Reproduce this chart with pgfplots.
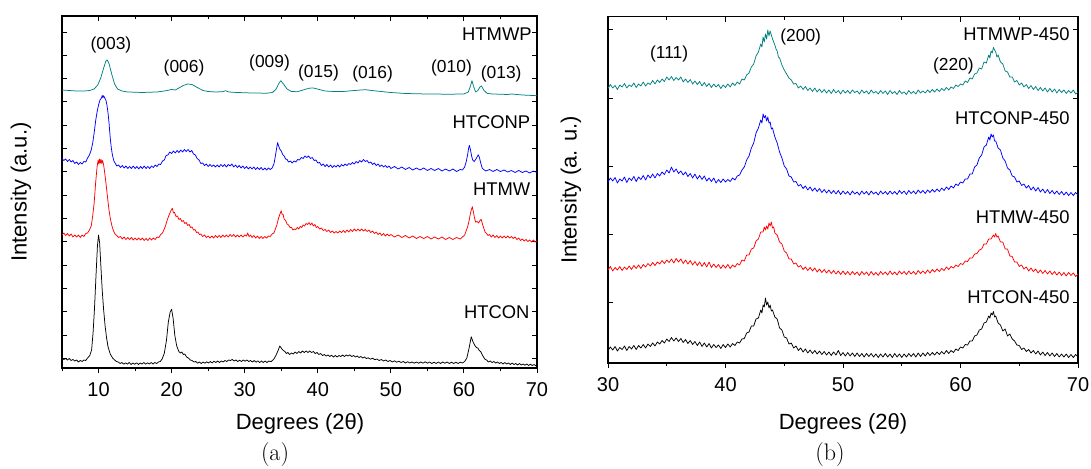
\documentclass[border=0pt]{standalone}
\usepackage{pgfplots}
\pgfplotsset{compat=1.18}
\usepackage{fontspec}
\setsansfont{Liberation Sans}
\definecolor{cteal}{RGB}{0,128,128}
\definecolor{cblue}{RGB}{0,0,255}
\definecolor{cred}{RGB}{255,0,0}
\pgfplotsset{
  xrdbase/.style={scale only axis, anchor=north west,
    axis line style={line width=1.1pt},
    tick style={line width=1pt, black},
    major tick length=5pt, minor tick length=3pt,
    /pgf/number format/assume math mode=true,
    tick label style={font=\sffamily\fontsize{20}{24}\selectfont, inner sep=0pt},
    xticklabel shift=14pt,
    yticklabels={}},
}
\tikzset{
  curve/.style={line width=0.75pt, mark=none, line join=round},
  lab/.style={font=\sffamily\fontsize{18.4}{22}\selectfont, inner sep=0pt},
  pk/.style={font=\sffamily\fontsize{17.4}{21}\selectfont, inner sep=0pt},
}
\begin{document}
\begin{tikzpicture}
\path[use as bounding box] (0pt,0pt) rectangle (1091pt,-468pt);
% ---------------- panel (a) ----------------
\begin{axis}[xrdbase, at={(62pt,-16pt)}, width=475pt, height=352pt,
  xmin=5, xmax=70, ymin=0, ymax=352,
  xtick={10,20,...,70}, minor xtick={5,15,...,65},
  ytick={9.7,33,56.3,79.6,102.9,126.2,149.5,172.8,196.1,219.4,242.7,266,289.3,312.6,335.9},
  tick align=inside, xtick pos=right, xticklabel pos=left, ytick pos=both]
\addplot[curve, black] coordinates {(5,10)(5.25,8.5)(5.5,9.5)(5.75,8)(6,9.5)(6.25,7.5)(6.5,8.5)(6.75,7)(7,8)(7.25,6)(7.5,7.5)(7.75,6.5)(8,8)(8.25,7.5)(8.5,10)(8.8,12.5)(9.05,18)(9.25,35)(9.45,60)(9.65,92)(9.85,122)(10.0,133)(10.15,125)(10.3,104.7)(10.5,78)(10.7,58)(10.9,42)(11.1,30)(11.3,21.3)(11.6,14)(11.95,9.7)(12.2,8)(12.45,6.5)(12.7,6)(12.95,4.5)(13.2,5.5)(13.45,3.8)(13.7,5.2)(13.95,3.8)(14.2,5.5)(14.45,3.5)(14.7,5)(14.95,3.8)(15.2,5.2)(15.45,3.5)(15.7,5)(15.95,4)(16.2,5.5)(16.45,3.8)(16.7,5.2)(16.95,4)(17.2,5.5)(17.45,4)(17.7,5.5)(17.95,4.5)(18.2,6)(18.45,6.5)(18.7,9)(19.0,14.7)(19.3,28)(19.55,46)(19.8,56)(20.0,58.7)(20.2,50)(20.45,32)(20.7,22)(21.0,16.3)(21.2,15)(21.4,16)(21.6,13.5)(21.8,14)(22.05,11)(22.3,10)(22.55,8)(22.8,7.5)(23.05,6)(23.3,6.5)(23.55,4.8)(23.8,6)(24.05,4.5)(24.3,6)(24.55,4.8)(24.8,6.2)(25.05,5)(25.3,6.5)(25.55,5)(25.8,6.8)(26.05,5.5)(26.3,7)(26.55,5.5)(26.8,7)(27.05,6)(27.3,7.5)(27.55,6.5)(27.8,8)(28.05,7.5)(28.3,8.5)(28.55,7)(28.8,8)(29.05,6.5)(29.3,7.8)(29.55,6.5)(29.8,8)(30.05,6.8)(30.3,8)(30.55,6.5)(30.8,7.5)(31.05,6)(31.3,7.5)(31.55,5.8)(31.8,7.2)(32.05,5.5)(32.3,7)(32.55,5.5)(32.8,7)(33.05,5.5)(33.3,7)(33.6,6.3)(34,9)(34.3,13)(34.6,18)(34.8,22)(35.1,19)(35.3,17.5)(35.5,16.5)(35.7,14.5)(35.9,15.5)(36.15,13.5)(36.4,15)(36.65,14)(36.9,16)(37.15,14.5)(37.4,16.5)(37.65,15)(37.9,17)(38.15,15.5)(38.4,17)(38.65,15.5)(38.9,17)(39.15,15.5)(39.4,16.5)(39.65,14.5)(39.9,15.5)(40.15,13.5)(40.4,14.5)(40.65,12.5)(40.9,13.5)(41.15,12)(41.4,13)(41.65,11.5)(41.9,12.8)(42.15,11)(42.4,12.5)(42.65,11)(42.9,12.5)(43.15,11.5)(43.4,13)(43.65,11.5)(43.9,13)(44.15,12)(44.4,13.2)(44.65,11.5)(44.9,12.5)(45.15,11)(45.4,12)(45.65,10.5)(45.9,11.5)(46.15,10)(46.4,11)(46.65,9.5)(46.9,10.2)(47.2,8.8)(47.5,9.8)(47.8,8.3)(48.1,9)(48.4,7.5)(48.7,8.5)(49,7)(49.3,8)(49.6,6.5)(49.9,7.5)(50.2,6)(50.5,7.2)(50.8,5.8)(51.1,6.8)(51.4,5.5)(51.7,6.5)(52,5)(52.3,6.3)(52.6,5)(52.9,6)(53.2,4.8)(53.5,6)(53.8,4.8)(54.1,6)(54.4,4.8)(54.7,6.2)(55,4.8)(55.3,6)(55.6,4.5)(55.9,5.8)(56.2,4.5)(56.5,6)(56.8,4.5)(57.1,6)(57.4,4.8)(57.7,6)(58,4.5)(58.3,5.8)(58.6,4.5)(58.9,5.8)(59.2,4.5)(59.5,5.8)(59.8,5)(60.1,6.5)(60.4,10)(60.7,19.7)(61.0,31.3)(61.25,26)(61.5,22.5)(61.7,20.5)(61.9,20)(62.1,17.5)(62.3,16.3)(62.6,12)(62.85,9)(63.1,8)(63.35,6)(63.6,7)(63.85,5.5)(64.1,6.5)(64.35,5)(64.6,6)(64.85,4.5)(65.1,5.5)(65.35,4)(65.6,5.5)(65.85,4)(66.1,5)(66.35,3.5)(66.6,5)(66.85,3.5)(67.1,4.5)(67.35,3)(67.6,4.5)(67.85,3)(68.1,4)(68.35,2.8)(68.6,4)(68.85,2.5)(69.1,3.8)(69.35,2.5)(69.6,3.5)(69.85,2.2)(70,3)};
\addplot[curve, cred] coordinates {(5,133)(5.25,135)(5.5,132.5)(5.75,134.5)(6,132)(6.25,134)(6.5,131)(6.75,133)(7,131)(7.25,133)(7.5,130.5)(7.75,133)(8,131.5)(8.25,134.5)(8.5,135)(8.75,138)(9,142)(9.2,152)(9.4,165)(9.6,185)(9.8,201)(9.95,208)(10.05,204)(10.15,209)(10.25,205)(10.35,208.5)(10.45,204.5)(10.55,207.5)(10.7,203)(10.85,195)(11,186)(11.15,176)(11.3,166)(11.45,157)(11.6,150)(11.8,143)(12,138)(12.25,134)(12.5,132.5)(12.75,130.5)(13,131.5)(13.25,129)(13.5,131)(13.75,128.5)(14,130.5)(14.25,128.5)(14.5,130.5)(14.75,128)(15,130)(15.25,128)(15.5,130)(15.75,128)(16,130)(16.25,127.5)(16.5,129.5)(16.75,127.5)(17,130)(17.25,128)(17.5,130)(17.75,128.5)(18,131)(18.25,130.5)(18.5,133.5)(18.75,135)(19,139)(19.2,143)(19.4,148)(19.6,152)(19.8,155.5)(19.95,158)(20.1,159.7)(20.25,155)(20.4,155.5)(20.6,151.5)(20.8,152)(21,148.5)(21.2,149.5)(21.4,146.5)(21.6,147.5)(21.8,144.5)(22,145.5)(22.2,142.5)(22.4,143.5)(22.6,140.5)(22.8,141)(23,138)(23.2,138.5)(23.4,135.5)(23.6,136)(23.8,133.5)(24,134)(24.25,131.5)(24.5,133)(24.75,130.5)(25,132)(25.25,130)(25.5,132)(25.75,130)(26,132.5)(26.25,130.5)(26.5,132.5)(26.75,130.5)(27,133)(27.25,131)(27.5,133)(27.75,131)(28,133.5)(28.25,131.5)(28.5,133.5)(28.75,131)(29,133)(29.25,131)(29.5,133)(29.75,131)(30,133)(30.25,132)(30.4,135)(30.6,131.5)(30.8,133)(31,130.5)(31.25,132.5)(31.5,130)(31.75,132)(32,129.5)(32.25,131.5)(32.5,129.5)(32.75,131.5)(33,130)(33.25,132)(33.5,131.5)(33.75,134)(34,135)(34.2,139)(34.4,143)(34.6,149)(34.8,153.5)(35,157.3)(35.1,154)(35.25,153.5)(35.4,149)(35.6,147.5)(35.8,144)(36,143)(36.2,140.5)(36.4,140.5)(36.6,138)(36.8,139)(37,138.5)(37.2,140.5)(37.4,139)(37.6,141.5)(37.8,140.5)(38,143)(38.2,142)(38.4,144.5)(38.6,143.5)(38.8,145.5)(39,143)(39.2,145)(39.4,142)(39.6,143.5)(39.8,140.5)(40,141.5)(40.25,139)(40.5,140)(40.75,137.5)(41,138.5)(41.25,136.5)(41.5,138)(41.75,135.5)(42,137)(42.25,135)(42.5,136.5)(42.75,135)(43,137)(43.25,135.5)(43.5,137.5)(43.75,135.5)(44,138)(44.25,136)(44.5,138.5)(44.75,136.5)(45,139)(45.25,137)(45.5,139)(45.75,137)(46,139)(46.25,137)(46.5,138.5)(46.75,136.5)(47,138)(47.25,135.5)(47.5,137)(47.75,134.5)(48,136)(48.25,133.5)(48.5,135)(48.75,132.5)(49,134.5)(49.25,132)(49.5,134)(49.75,132)(50,133.5)(50.5,131)(51,133)(51.5,130.5)(52,132.5)(52.5,130)(53,132)(53.5,129.5)(54,131.5)(54.5,129.5)(55,131.5)(55.5,129)(56,131)(56.5,129)(57,131)(57.5,128.5)(58,130.5)(58.5,128.5)(59,130.5)(59.5,129)(59.8,131)(60.1,133)(60.3,137)(60.5,141)(60.7,147)(60.85,153)(61,158)(61.15,161.3)(61.3,156)(61.45,150)(61.6,146)(61.8,146.5)(62,145)(62.2,147.5)(62.35,148.7)(62.5,145)(62.7,140)(62.9,136)(63.1,134.5)(63.3,132.5)(63.5,133.5)(63.75,131)(64,133)(64.25,130.5)(64.5,132.5)(64.75,130)(65,132)(65.25,130)(65.5,132)(65.75,130)(66,132)(66.25,130)(66.5,131.5)(66.75,129.5)(67,131)(67.25,128.5)(67.5,130)(67.75,127.5)(68,129)(68.25,127)(68.5,128.5)(68.75,126.5)(69,128)(69.25,126)(69.5,128)(69.75,126)(70,127)};
\addplot[curve, cblue] coordinates {(5,209.5)(5.25,207.5)(5.5,209)(5.75,206.5)(6,208.5)(6.25,206)(6.5,207.5)(6.75,204.5)(7,206)(7.25,203.5)(7.5,205.5)(7.75,204)(8,206.5)(8.25,206)(8.5,210)(8.75,213)(9,218)(9.2,225)(9.4,235)(9.6,247)(9.8,256)(10,263)(10.2,268)(10.4,270)(10.5,272.5)(10.6,270.5)(10.7,272.3)(10.85,270)(11,268)(11.15,263)(11.3,255)(11.45,244)(11.6,230)(11.75,220)(11.9,213)(12.1,207)(12.3,204.5)(12.5,202)(12.75,203)(13,200.5)(13.25,202.5)(13.5,200)(13.75,202)(14,199.5)(14.25,201.5)(14.5,199.5)(14.75,202)(15,199.5)(15.25,201.5)(15.5,199)(15.75,201.5)(16,199.5)(16.25,202)(16.5,199.5)(16.75,201.5)(17,199.5)(17.25,202)(17.5,200.5)(17.75,203)(18,201.5)(18.25,204)(18.5,203.5)(18.75,207)(19,208)(19.25,212.5)(19.5,213)(19.75,216)(20,214.5)(20.25,217)(20.5,215)(20.75,217.5)(21,215.5)(21.25,218)(21.5,216)(21.75,218.5)(22,216.5)(22.25,218.5)(22.5,216)(22.75,217.5)(23,214)(23.25,213)(23.5,209.5)(23.75,208)(24,204.5)(24.25,205)(24.5,202.5)(24.75,204)(25,201.5)(25.25,203.5)(25.5,201.5)(25.75,203)(26,201)(26.25,203)(26.5,201)(26.75,203.5)(27,201.5)(27.25,203.5)(27.5,201)(27.75,203.5)(28,202)(28.25,204)(28.5,201)(28.75,203)(29,200.5)(29.25,202.5)(29.5,200)(29.75,202)(30,199.5)(30.25,201.5)(30.5,199)(30.75,201)(31,199)(31.25,201)(31.5,198.5)(31.75,200.5)(32,198.5)(32.25,200.5)(32.5,198)(32.75,200)(33,198)(33.25,200)(33.5,198.5)(33.75,200)(34,204)(34.2,212)(34.4,221)(34.5,225.4)(34.65,222)(34.8,219)(35,217)(35.2,213.5)(35.4,212)(35.6,209)(35.8,208.5)(36,206)(36.25,207)(36.5,205)(36.75,207)(37,206)(37.25,208.5)(37.5,208)(37.75,210.5)(38,209.5)(38.25,212)(38.5,210.5)(38.75,212)(39,209.5)(39.25,210.5)(39.5,207.5)(39.75,208)(40,205)(40.25,205.5)(40.5,202.5)(40.75,204)(41,201.5)(41.25,203.5)(41.5,201)(41.75,203)(42,200.5)(42.25,202.5)(42.5,201)(42.75,203)(43,201)(43.25,203.5)(43.5,202)(43.75,204)(44,202.5)(44.25,204.5)(44.5,203.5)(44.75,205.5)(45,204)(45.25,206.5)(45.5,205)(45.75,207.5)(46,206)(46.25,208.5)(46.5,206.5)(46.75,207.5)(47,205)(47.25,206)(47.5,203.5)(47.75,205)(48,202.5)(48.25,204)(48.5,201.5)(48.75,203)(49,201)(49.25,202.5)(49.5,200.5)(49.75,202)(50,199.5)(50.5,201.5)(51,199)(51.5,201)(52,198.5)(52.5,200.5)(53,198)(53.5,200)(54,198)(54.5,200)(55,197.5)(55.5,199.5)(56,197.5)(56.5,199.5)(57,197)(57.5,199)(58,197)(58.5,199)(59,196.5)(59.5,198.5)(59.8,198)(60.1,201)(60.3,206)(60.5,213)(60.65,220)(60.75,222.6)(60.9,218)(61.05,212)(61.2,208)(61.4,206.5)(61.6,208.5)(61.8,211)(61.95,213.2)(62.1,211)(62.3,205)(62.5,200)(62.7,198.5)(63,197)(63.5,198.5)(64,196.5)(64.5,198.5)(65,196.5)(65.5,198)(66,196)(66.5,197.5)(67,195.5)(67.5,197.5)(68,195.5)(68.5,197)(69,195)(69.5,197)(70,195.5)};
\addplot[curve, cteal] coordinates {(5,278)(6,277.5)(7,277)(8,277)(8.8,277.5)(9.4,279)(9.9,283)(10.3,290)(10.7,300)(11.0,307)(11.2,308)(11.45,304)(11.8,294)(12.2,284)(12.6,279)(13.2,277)(14,276)(15,275.8)(16,275.5)(17,275.8)(18,276)(19,277)(20,278.5)(20.5,278)(21,280)(21.6,282.5)(22.2,284)(22.8,283.5)(23.5,280.5)(24.3,277.5)(25,276.5)(26,276)(27,276.3)(27.4,277.3)(27.8,276)(29,275.5)(31,275)(33,274.8)(33.8,275.5)(34.3,279)(34.7,285)(34.95,287.3)(35.3,284)(35.8,279)(36.4,276.5)(37.2,276.3)(38,278)(38.8,279.8)(39.4,280)(40.2,278.5)(41,277)(42.2,276.5)(43.5,276.5)(45,277.5)(46.5,278.3)(48,277)(50,275.5)(52,274.5)(55,274)(58,273.8)(60,274)(60.6,276)(60.9,282)(61.1,287.3)(61.35,281)(61.6,276)(61.9,277.5)(62.2,281)(62.4,282.1)(62.7,278)(63.2,274.5)(64,274)(66,273.5)(66.5,274)(68,273)(70,272.3)};
\node[lab, anchor=east] at (axis cs:69.3,334) {HTMWP};
\node[lab, anchor=east] at (axis cs:69.1,246) {HTCONP};
\node[lab, anchor=east] at (axis cs:69.1,179) {HTMW};
\node[lab, anchor=east] at (axis cs:69.0,56) {HTCON};
\node[pk] at (axis cs:11.7,323) {(003)};
\node[pk] at (axis cs:21.7,300) {(006)};
\node[pk] at (axis cs:33.4,305) {(009)};
\node[pk] at (axis cs:40.1,295) {(015)};
\node[pk] at (axis cs:47.5,294) {(016)};
\node[pk] at (axis cs:58.3,300) {(010)};
\node[pk] at (axis cs:65.1,294) {(013)};
\end{axis}
\begin{axis}[xrdbase, at={(62pt,-16pt)}, width=475pt, height=352pt,
  xmin=5, xmax=70, ymin=0, ymax=352, hide y axis, axis x line*=bottom,
  axis line style={-, line width=1.1pt}, tick align=outside,
  xtick={10,20,...,70}, minor xtick={5,15,...,65}, xticklabels={}]
\end{axis}
% ---------------- panel (b) ----------------
\begin{axis}[xrdbase, at={(608pt,-16.7pt)}, width=470pt, height=346.3pt,
  xmin=30, xmax=70, ymin=0, ymax=346.3,
  xtick={30,40,...,70}, minor xtick={35,45,...,65},
  ytick={61,129,197,265,333},
  tick align=inside, xtick pos=right, xticklabel pos=left, ytick pos=both]
\addplot[curve, black] coordinates {(30,12.5)(30.2,16)(30.4,13)(30.6,16.5)(30.8,12)(31,15.5)(31.2,13.5)(31.4,17)(31.6,12.5)(31.8,16.5)(32,14)(32.2,17.5)(32.4,13.5)(32.6,17.5)(32.8,15)(33,18.5)(33.2,15)(33.4,19)(33.6,16.5)(33.8,20)(34,17)(34.2,21)(34.4,19)(34.6,22.5)(34.8,20)(35,24)(35.2,21.5)(35.4,25.5)(35.6,22)(35.8,25)(36,21.5)(36.2,24.5)(36.4,20.5)(36.6,23.5)(36.8,19.5)(37,22.5)(37.2,18.5)(37.4,21.5)(37.6,17.5)(37.8,21)(38,16.5)(38.2,20)(38.4,16)(38.6,19.5)(38.8,15)(39,18.5)(39.2,15.5)(39.4,18)(39.6,14.5)(39.8,18.5)(40,15.5)(40.2,19)(40.4,16)(40.6,19.5)(40.8,17.5)(41,21)(41.2,20)(41.4,24)(41.6,24.5)(41.8,30)(42,31)(42.2,37)(42.4,37)(42.6,44)(42.8,45)(43,53)(43.1,50)(43.2,58)(43.3,56)(43.4,65)(43.5,58)(43.6,61)(43.7,55)(43.8,58)(43.9,52)(44,53)(44.2,46)(44.4,44)(44.6,35)(44.8,33)(45,26)(45.2,25)(45.4,19)(45.6,20)(45.8,15)(46,17)(46.2,12.5)(46.4,15)(46.6,11)(46.8,14)(47,10)(47.2,13)(47.4,9.5)(47.6,12.5)(47.8,9)(48,12)(48.2,8.5)(48.4,11.5)(48.6,8)(48.8,11)(49,7.5)(49.2,11)(49.4,8)(49.6,12.5)(49.8,7.5)(50,10.5)(50.2,7)(50.4,10.5)(50.6,7)(50.8,10)(51,6.5)(51.2,10)(51.4,6.5)(51.6,9.5)(51.8,6)(52,9.5)(52.2,6.5)(52.4,9.5)(52.6,6)(52.8,9)(53,5.5)(53.2,9)(53.4,6)(53.6,9.5)(53.8,6)(54,9)(54.2,5.5)(54.4,9.5)(54.6,6)(54.8,9)(55,5.5)(55.2,9)(55.4,6)(55.6,9.5)(55.8,6.5)(56,9.5)(56.2,6)(56.4,10)(56.6,6.5)(56.8,10)(57,7)(57.2,10.5)(57.4,7.5)(57.6,10.5)(57.8,8)(58,11)(58.2,8.5)(58.4,11.5)(58.6,9)(58.8,12.5)(59,9.5)(59.2,12.5)(59.4,10.5)(59.6,14)(59.8,12.5)(60,16)(60.2,15)(60.4,18.5)(60.6,18)(60.8,22)(61,22)(61.2,27)(61.4,28)(61.6,33)(61.8,34)(62,40)(62.2,41)(62.4,47)(62.5,45)(62.6,50)(62.7,48)(62.8,51.5)(62.9,46)(63,47)(63.2,40)(63.4,38)(63.6,32)(63.8,34)(64,27)(64.2,29)(64.4,24)(64.6,22)(64.8,18)(65,17.5)(65.2,13.5)(65.4,15)(65.6,11.5)(65.8,13.5)(66,10)(66.2,12.5)(66.4,9)(66.6,12)(66.8,8)(67,11)(67.2,7.5)(67.4,10.5)(67.6,7)(67.8,10)(68,6.5)(68.2,9.5)(68.4,6)(68.6,9)(68.8,6)(69,9)(69.2,5.5)(69.4,8.5)(69.6,5.5)(69.8,8.5)(70,6)};
\addplot[curve, cred] coordinates {(30,93)(30.2,96.5)(30.4,92)(30.6,95.5)(30.8,93)(31,96.5)(31.2,92.5)(31.4,96)(31.6,93.5)(31.8,97)(32,93.5)(32.2,97.5)(32.4,94.5)(32.6,98)(32.8,94.5)(33,98.5)(33.2,96)(33.4,99.5)(33.6,97)(33.8,100.5)(34,97.5)(34.2,101)(34.4,99)(34.6,102.5)(34.8,99.5)(35,103)(35.2,100.5)(35.4,104)(35.6,100)(35.8,104.5)(36,101)(36.2,104)(36.4,99.5)(36.6,103)(36.8,99)(37,102.5)(37.2,98)(37.4,101.5)(37.6,97.5)(37.8,101)(38,96.5)(38.2,100.5)(38.4,96)(38.6,101)(38.8,95.5)(39,99)(39.2,95.5)(39.4,98.5)(39.6,94.5)(39.8,98)(40,95)(40.2,98.5)(40.4,94.5)(40.6,98)(40.8,96)(41,99.5)(41.2,98)(41.4,103)(41.6,102)(41.8,108)(42,108)(42.2,114)(42.4,115)(42.6,122)(42.8,124)(43,131)(43.2,131)(43.3,136)(43.4,133)(43.5,137)(43.6,134)(43.7,140)(43.8,137)(43.9,141)(44,135)(44.1,136)(44.2,130)(44.4,128)(44.6,121)(44.8,119)(45,112)(45.2,110)(45.4,104)(45.6,104)(45.8,99)(46,100)(46.2,96)(46.4,97.5)(46.6,93.5)(46.8,96)(47,92.5)(47.2,95.5)(47.4,92)(47.6,95)(47.8,91)(48,94)(48.2,90.5)(48.4,93.5)(48.6,90)(48.8,93)(49,89.5)(49.2,92.5)(49.4,89)(49.6,92)(49.8,88.5)(50,92)(50.2,88.5)(50.4,91.5)(50.6,88)(50.8,91.5)(51,88.5)(51.2,91)(51.4,87.5)(51.6,91.5)(51.8,88.5)(52,91)(52.2,87.5)(52.4,91.5)(52.6,88)(52.8,90.5)(53,87.5)(53.2,91.5)(53.4,88.5)(53.6,91)(53.8,88)(54,92)(54.2,88.5)(54.4,91)(54.6,88)(54.8,92)(55,89)(55.2,91.5)(55.4,88.5)(55.6,92)(55.8,89)(56,91.5)(56.2,88.5)(56.4,92.5)(56.6,89.5)(56.8,92)(57,89.5)(57.2,93)(57.4,90)(57.6,93.5)(57.8,91)(58,94)(58.2,91.5)(58.4,94.5)(58.6,92.5)(58.8,96)(59,93.5)(59.2,96.5)(59.4,95)(59.6,98)(59.8,96.5)(60,99.5)(60.2,98.5)(60.4,102)(60.6,101.5)(60.8,105)(61,105)(61.2,109)(61.4,109.5)(61.6,113)(61.8,114)(62,119)(62.2,119)(62.4,124)(62.6,124)(62.8,128)(62.9,126)(63,129.5)(63.1,126)(63.2,127)(63.4,121)(63.6,121)(63.8,114)(64,114)(64.2,107)(64.4,106.5)(64.6,101)(64.8,101)(65,96.5)(65.2,98)(65.4,94)(65.6,96)(65.8,92)(66,95)(66.2,91.5)(66.4,94)(66.6,90)(66.8,93)(67,89.5)(67.2,92.5)(67.4,89)(67.6,92)(67.8,88.5)(68,91.5)(68.2,88)(68.4,91)(68.6,87.5)(68.8,90.5)(69,87)(69.2,90.5)(69.4,87.5)(69.6,90)(69.8,86.5)(70,89)};
\addplot[curve, cblue] coordinates {(30,181)(30.2,185)(30.4,182)(30.6,185.5)(30.8,180)(31,184)(31.2,182)(31.4,186)(31.6,180.5)(31.8,185)(32,182.5)(32.2,186.5)(32.4,181.5)(32.6,186)(32.8,183.5)(33,187.5)(33.2,183)(33.4,188)(33.6,185)(33.8,189)(34,185)(34.2,189.5)(34.4,187)(34.6,191)(34.8,188.5)(35,193)(35.2,190)(35.4,196)(35.6,191)(35.8,194)(36,189.5)(36.2,192)(36.4,188)(36.6,191)(36.8,186.5)(37,189.5)(37.2,185)(37.4,189)(37.6,184)(37.8,187.5)(38,183.5)(38.2,187)(38.4,182)(38.6,185)(38.8,181.5)(39,185)(39.2,180)(39.4,183.5)(39.6,180.5)(39.8,184)(40,181)(40.2,183.5)(40.4,181.5)(40.6,185)(40.8,183)(41,187)(41.2,188)(41.4,193)(41.6,196)(41.8,203)(42,207)(42.2,215)(42.4,220)(42.6,230)(42.8,235)(43,243)(43.1,240)(43.2,249)(43.3,245)(43.4,247.5)(43.5,242)(43.6,246)(43.7,240)(43.8,241)(43.9,234)(44,235)(44.2,226)(44.4,220)(44.6,211)(44.8,205)(45,197)(45.2,194)(45.4,187)(45.6,186)(45.8,181)(46,181.5)(46.2,177)(46.4,178.5)(46.6,174.5)(46.8,177)(47,173)(47.2,176)(47.4,172)(47.6,175)(47.8,171.5)(48,174.5)(48.2,170.5)(48.4,173.5)(48.6,170)(48.8,173)(49,169.5)(49.2,172.5)(49.4,169)(49.6,172.5)(49.8,168.5)(50,172)(50.2,169)(50.4,171.5)(50.6,168)(50.8,172)(51,169)(51.2,171)(51.4,168)(51.6,172)(51.8,169)(52,171.5)(52.2,168)(52.4,172)(52.6,169)(52.8,171)(53,168)(53.2,172)(53.4,169)(53.6,171.5)(53.8,168.5)(54,172)(54.2,169)(54.4,171.5)(54.6,168.5)(54.8,172.5)(55,169.5)(55.2,172)(55.4,168.5)(55.6,172.5)(55.8,169.5)(56,172)(56.2,169)(56.4,173)(56.6,170)(56.8,172.5)(57,169.5)(57.2,173)(57.4,170.5)(57.6,173.5)(57.8,171)(58,174)(58.2,171.5)(58.4,175)(58.6,172.5)(58.8,176)(59,173.5)(59.2,177)(59.4,175)(59.6,179)(59.8,177.5)(60,181)(60.2,180)(60.4,184)(60.6,184)(60.8,189)(61,189)(61.2,196)(61.4,198)(61.6,205)(61.8,208)(62,216)(62.2,218)(62.4,226)(62.5,223)(62.6,229)(62.7,226)(62.8,228)(62.9,222)(63,222)(63.2,215)(63.4,213)(63.6,205)(63.8,202)(64,195)(64.2,193)(64.4,187)(64.6,186)(64.8,181)(65,182)(65.2,177.5)(65.4,179)(65.6,175)(65.8,177.5)(66,173)(66.2,176)(66.4,172)(66.6,175.5)(66.8,171)(67,174)(67.2,170)(67.4,173.5)(67.6,169.5)(67.8,172.5)(68,169)(68.2,172)(68.4,168.5)(68.6,171.5)(68.8,168)(69,171)(69.2,167.5)(69.4,170.5)(69.6,167.5)(69.8,170.5)(70,168)};
\addplot[curve, cteal] coordinates {(30,274.5)(30.2,278.5)(30.4,275)(30.6,277.5)(30.8,273.5)(31,278)(31.2,276)(31.4,279.5)(31.6,275)(31.8,278)(32,276.5)(32.2,280)(32.4,275.5)(32.6,279)(32.8,277)(33,281)(33.2,277)(33.4,280)(33.6,278.5)(33.8,282.5)(34,279)(34.2,283)(34.4,280.5)(34.6,284)(34.8,281.5)(35,286)(35.2,283)(35.4,286.5)(35.6,282.5)(35.8,285.5)(36,283)(36.2,286)(36.4,281)(36.6,284)(36.8,280.5)(37,283.5)(37.2,279)(37.4,282)(37.6,278.5)(37.8,281.5)(38,277)(38.2,280.5)(38.4,276.5)(38.6,279.5)(38.8,275.5)(39,279)(39.2,276)(39.4,278.5)(39.6,274.5)(39.8,278)(40,275.5)(40.2,279)(40.4,276)(40.6,280)(40.8,277.5)(41,281)(41.2,279)(41.4,284)(41.6,283)(41.8,288)(42,290)(42.2,296)(42.4,299)(42.6,307)(42.8,311)(43,319)(43.1,316)(43.2,326)(43.3,321)(43.4,329)(43.5,324)(43.6,333)(43.7,327)(43.8,332)(43.9,328)(44,324)(44.1,321)(44.2,318)(44.3,314)(44.4,312)(44.5,306)(44.6,305)(44.8,298)(45,293)(45.2,289)(45.4,285)(45.6,283)(45.8,279)(46,279.5)(46.2,275)(46.4,277)(46.6,273.5)(46.8,276.5)(47,272.5)(47.2,275)(47.4,271.5)(47.6,275)(47.8,271)(48,274)(48.2,270.5)(48.4,273.5)(48.6,270)(48.8,273)(49,269.5)(49.2,273.5)(49.4,270)(49.6,272.5)(49.8,269)(50,273)(50.2,270)(50.4,272.5)(50.6,269.5)(50.8,273)(51,270.5)(51.2,272)(51.4,269)(51.6,273)(51.8,270)(52,272)(52.2,269)(52.4,273)(52.6,270)(52.8,271.5)(53,269)(53.2,272.5)(53.4,269.5)(53.6,272)(53.8,268.5)(54,272.5)(54.2,269.5)(54.4,271.5)(54.6,268.5)(54.8,272.5)(55,269.5)(55.2,271)(55.4,268.5)(55.6,272.5)(55.8,269.5)(56,271.5)(56.2,269)(56.4,273)(56.6,270)(56.8,272)(57,270)(57.2,273)(57.4,270.5)(57.6,273.5)(57.8,271)(58,274)(58.2,271.5)(58.4,274.5)(58.6,272.5)(58.8,275.5)(59,273)(59.2,276)(59.4,274.5)(59.6,278)(59.8,276.5)(60,279)(60.2,278)(60.4,282)(60.6,280.5)(60.8,285)(61,284)(61.2,289)(61.4,290)(61.6,295)(61.8,294)(62,301)(62.2,300)(62.4,308)(62.5,305)(62.6,312)(62.7,310)(62.8,315.5)(62.9,313)(63,311)(63.1,306)(63.2,308)(63.4,301)(63.6,299)(63.8,292)(64,291)(64.2,286)(64.4,286)(64.6,281)(64.8,282.5)(65,278)(65.2,280)(65.4,276)(65.6,278.5)(65.8,274.5)(66,277.5)(66.2,273.5)(66.4,276.5)(66.6,272.5)(66.8,275.5)(67,272)(67.2,275)(67.4,271)(67.6,274.5)(67.8,271)(68,274)(68.2,270)(68.4,273.5)(68.6,270.5)(68.8,273)(69,269.5)(69.2,272.5)(69.4,270)(69.6,273)(69.8,269)(70,271)};
\node[lab, anchor=east] at (axis cs:69.3,329) {HTMWP-450};
\node[lab, anchor=east] at (axis cs:69.3,245) {HTCONP-450};
\node[lab, anchor=east] at (axis cs:69.3,146) {HTMW-450};
\node[lab, anchor=east] at (axis cs:69.3,66) {HTCON-450};
\node[pk] at (axis cs:35.2,309) {(111)};
\node[pk] at (axis cs:46.4,326.5) {(200)};
\node[pk] at (axis cs:59.4,297) {(220)};
\end{axis}
\begin{axis}[xrdbase, at={(608pt,-16.7pt)}, width=470pt, height=346.3pt,
  xmin=30, xmax=70, ymin=0, ymax=346.3, hide y axis, axis x line*=bottom,
  axis line style={-, line width=1.1pt}, tick align=outside,
  xtick={30,40,...,70}, minor xtick={35,45,...,65}, xticklabels={}]
\end{axis}
% ---------------- labels ----------------
\node[rotate=90, font=\sffamily\fontsize{22}{26}\selectfont, inner sep=0pt] at (21pt,-192pt) {Intensity (a.u.)};
\node[rotate=90, font=\sffamily\fontsize{22}{26}\selectfont, inner sep=0pt] at (571pt,-190pt) {Intensity (a. u.)};
\node[font=\sffamily\fontsize{22}{26}\selectfont, inner sep=0pt] at (300pt,-424pt) {Degrees (2θ)};
\node[font=\sffamily\fontsize{22}{26}\selectfont, inner sep=0pt] at (843pt,-424pt) {Degrees (2θ)};
\node[font=\rmfamily\fontsize{24}{28}\selectfont, inner sep=0pt] at (275pt,-455pt) {(a)};
\node[font=\rmfamily\fontsize{24}{28}\selectfont, inner sep=0pt] at (830pt,-455pt) {(b)};
\end{tikzpicture}
\end{document}
